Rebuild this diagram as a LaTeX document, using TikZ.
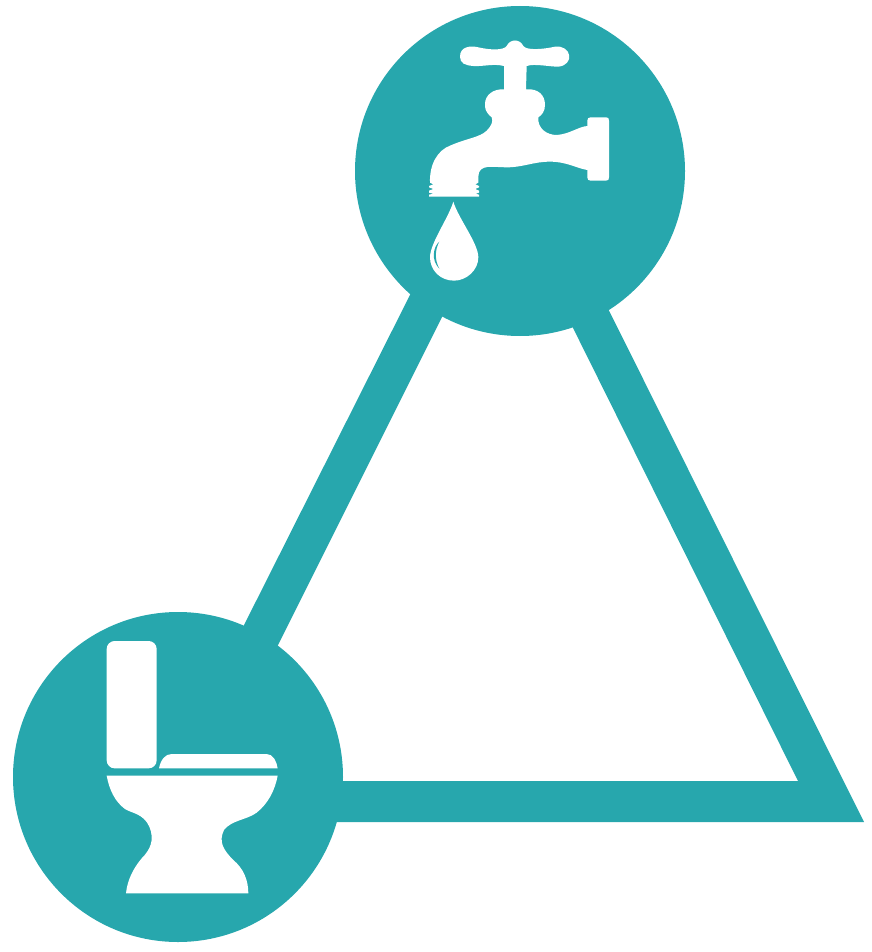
\documentclass[tikz,border=0pt]{standalone}
\usetikzlibrary{positioning}

\begin{document}
\begin{tikzpicture}[
  x=1pt, y=-1pt,
  disc/.style={circle, fill=loopteal, draw=none, inner sep=0pt, minimum size=330pt},
  icon/.style={fill=white, draw=none},
]

\definecolor{loopteal}{RGB}{39,167,173}

\useasboundingbox (0,0) rectangle (871,952);

% ============================================================
% TRIANGLE (outer edge, then inner edge)
% ============================================================
\fill[loopteal, even odd rule]
  (506,104) -- (864,822) -- (145,822) -- cycle
  (505,191) -- (798,781) -- (210,781) -- cycle;

% ============================================================
% DISCS
% ============================================================
\node[disc] (tapdisc) at (520,171) {};
\node[disc] (toiletdisc) at (178,777) {};

% ============================================================
% TAP
% Traced on a 3x grid, so the scope scales by 1/3
% ============================================================
\begin{scope}[shift={(410,30)}, scale=1/3]
  \fill[icon]
    (150,80) .. controls (150,50) and (180,46) .. (205,52)
    .. controls (240,60) and (280,62) .. (290,48)
    .. controls (300,26) and (330,26) .. (340,48)
    .. controls (350,62) and (400,58) .. (435,50)
    .. controls (485,44) and (495,105) .. (445,110)
    .. controls (415,110) and (375,100) .. (350,108)
    -- (348,178)
    .. controls (385,175) and (405,195) .. (405,225)
    .. controls (405,245) and (395,255) .. (385,262)
    .. controls (382,295) and (410,315) .. (440,315)
    .. controls (480,312) and (505,290) .. (532,288)
    -- (532,272) .. controls (532,265) and (535,262) .. (542,262)
    -- (588,262) .. controls (595,262) and (597,265) .. (597,272)
    -- (597,442) .. controls (597,449) and (595,452) .. (588,452)
    -- (542,452) .. controls (535,452) and (532,449) .. (532,442)
    -- (532,420)
    .. controls (500,415) and (470,395) .. (420,395)
    .. controls (370,395) and (340,412) .. (290,412)
    .. controls (250,412) and (205,400) .. (205,440)
    -- (205,458) -- (196,463) -- (207,468) -- (207,472) -- (196,477)
    -- (207,482) -- (207,488) -- (197,491) -- (207,494) -- (207,500)
    -- (57,500) -- (57,494) -- (70,491) -- (57,488) -- (57,482)
    -- (70,477) -- (57,472) -- (57,468) -- (70,463) -- (60,458)
    .. controls (58,400) and (85,360) .. (120,347)
    .. controls (170,325) and (210,322) .. (230,302)
    .. controls (245,288) and (250,272) .. (245,262)
    .. controls (225,245) and (225,235) .. (225,222)
    .. controls (225,195) and (250,176) .. (282,178)
    -- (282,108)
    .. controls (250,100) and (220,110) .. (190,108)
    .. controls (165,106) and (150,100) .. (150,80) -- cycle;
  % Drop
  \fill[icon]
    (130,515) .. controls (145,565) and (205,640) .. (205,682)
    .. controls (205,720) and (170,752) .. (132,752)
    .. controls (90,752) and (60,720) .. (60,682)
    .. controls (60,640) and (115,565) .. (130,515) -- cycle;
  \fill[loopteal]
    (88,635) .. controls (70,650) and (62,690) .. (88,716)
    .. controls (74,690) and (74,660) .. (88,635) -- cycle;
\end{scope}

% ============================================================
% TOILET
% ============================================================
\begin{scope}[shift={(90,630)}, scale=1/3]
  % Tank
  \fill[icon, rounded corners=8pt] (50,33) rectangle (200,415);
  % Seat
  \fill[icon]
    (207,415) .. controls (212,390) and (225,372) .. (245,372)
    -- (530,372) .. controls (550,372) and (560,395) .. (563,415) -- cycle;
  % Bowl
  \fill[icon]
    (50,437) -- (563,437)
    .. controls (555,480) and (535,520) .. (500,548)
    .. controls (470,570) and (425,570) .. (402,600)
    .. controls (385,635) and (400,660) .. (430,690)
    .. controls (460,715) and (475,750) .. (475,790)
    -- (108,790)
    .. controls (112,750) and (130,715) .. (155,685)
    .. controls (180,660) and (195,630) .. (178,590)
    .. controls (160,550) and (125,550) .. (105,537)
    .. controls (75,515) and (58,480) .. (50,437) -- cycle;
\end{scope}

\end{tikzpicture}
\end{document}
